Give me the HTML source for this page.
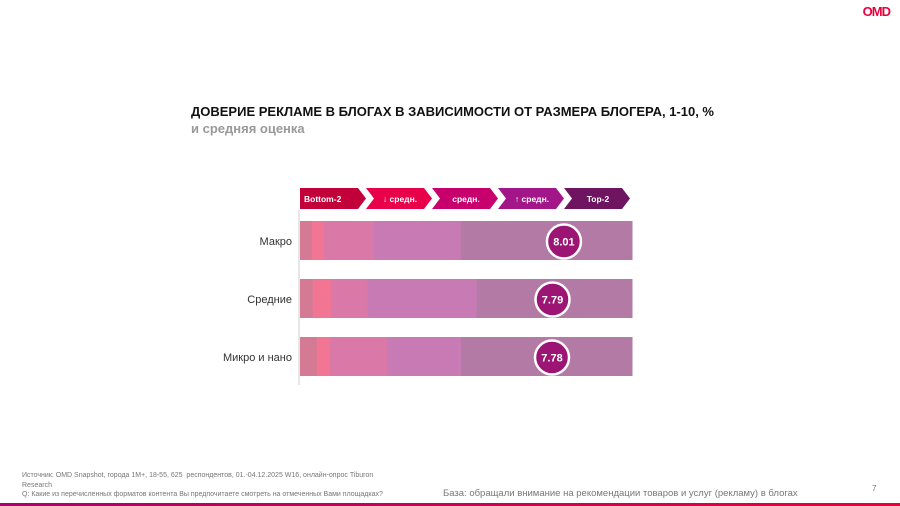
<!DOCTYPE html>
<html><head><meta charset="utf-8"><style>
body{margin:0;width:900px;height:506px;background:#fff;font-family:"Liberation Sans",sans-serif;position:relative;overflow:hidden}
.abs{position:absolute}
</style></head><body>
<div class="abs" style="right:10px;top:4px;font-weight:bold;font-size:13px;color:#e8003c;letter-spacing:-1px">OMD</div>
<div class="abs" style="left:191px;top:104px;font-size:13px;font-weight:bold;color:#111">ДОВЕРИЕ РЕКЛАМЕ В БЛОГАХ В ЗАВИСИМОСТИ ОТ РАЗМЕРА БЛОГЕРА, 1-10, %</div>
<div class="abs" style="left:191px;top:121px;font-size:13px;font-weight:bold;color:#999">и средняя оценка</div>
<svg class="abs" style="left:0;top:0" width="900" height="506" id="chart"></svg>
<div class="abs" style="left:22px;top:471px;font-size:7px;color:#777;line-height:9.5px;width:382px">Источник: OMD Snapshot, города 1М+, 18-55, 625&nbsp; респондентов, 01.-04.12.2025 W16, онлайн-опрос Tiburon Research<br>Q: Какие из перечисленных форматов контента Вы предпочитаете смотреть на отмеченных Вами площадках?</div>
<div class="abs" style="left:443px;top:488px;font-size:9.5px;color:#777">База: обращали внимание на рекомендации товаров и услуг (рекламу) в блогах</div>
<div class="abs" style="left:872px;top:484px;font-size:8px;color:#777">7</div>
<div class="abs" style="left:0;top:503px;width:900px;height:3px;background:linear-gradient(90deg,#b0006a,#e8003c)"></div>
<script>
const categories=["Макро","Средние","Микро и нано"];
const segLabels=["Bottom-2","↓ средн.","средн.","↑ средн.","Top-2"];
const bottom2=[3.6,3.9,5.1];
const lowMid=[3.6,5.4,3.9];
const mid=[15.0,11.1,17.2];
const highMid=[26.2,32.8,22.3];
const top2=[51.6,46.8,51.5];
const means=[8.01,7.79,7.78];
const segColors=["#d47a95","#f27593","#da79a8","#c77ab3","#b27aa4"];
const hdrColors=["#c2003a","#e8004a","#c8006e","#a3168a","#6e1460"];
const svg=document.getElementById('chart');const NS="http://www.w3.org/2000/svg";
const x0=300,W=332;const x=v=>x0+v/100*W;
const mx=m=>552+(m-7.78)*52;
const y=i=>221+i*58;const bh=39;
function mk(t,a){const e=document.createElementNS(NS,t);for(const k in a)e.setAttribute(k,a[k]);svg.appendChild(e);return e;}
segLabels.forEach((l,i)=>{const hx=300+i*66,w=66,h=21,ty=188;
 const p=mk('polygon',{points:`${hx},${ty} ${hx+w-8},${ty} ${hx+w},${ty+h/2} ${hx+w-8},${ty+h} ${hx},${ty+h} ${i?hx+8:hx},${ty+h/2}`,fill:hdrColors[i]});
 
 
 const t=mk('text',{x:i?hx+34:hx+4,y:ty+14,fill:'#fff','font-size':'8.5','font-weight':'bold','text-anchor':i?'middle':'start'});t.textContent=l;
 
 
});
const axis=mk('line',{x1:299,y1:210,x2:299,y2:385,stroke:'#ccc','stroke-width':1});


const series=[bottom2,lowMid,mid,highMid,top2];
categories.forEach((c,i)=>{
 const t=mk('text',{x:292,y:y(i)+24,'font-size':'11','fill':'#333','text-anchor':'end'});t.textContent=c;
 
 
 let acc=0;
 series.forEach((s,j)=>{const r=mk('rect',{x:x(acc),y:y(i),width:x(acc+s[i])-x(acc)+0.5,height:bh,fill:segColors[j]});
  
  
  acc+=s[i];});
 const cx=mx(means[i]), cy=y(i)+bh/2+1;
 const ci=mk('circle',{cx:cx,cy:cy,r:17,fill:'#9c1474',stroke:'#fff','stroke-width':2.5});
 
 
 const mt=mk('text',{x:cx,y:cy+4,'font-size':'11','font-weight':'bold',fill:'#fff','text-anchor':'middle'});mt.textContent=means[i].toFixed(2);
 
 
});
</script>
</body></html>
